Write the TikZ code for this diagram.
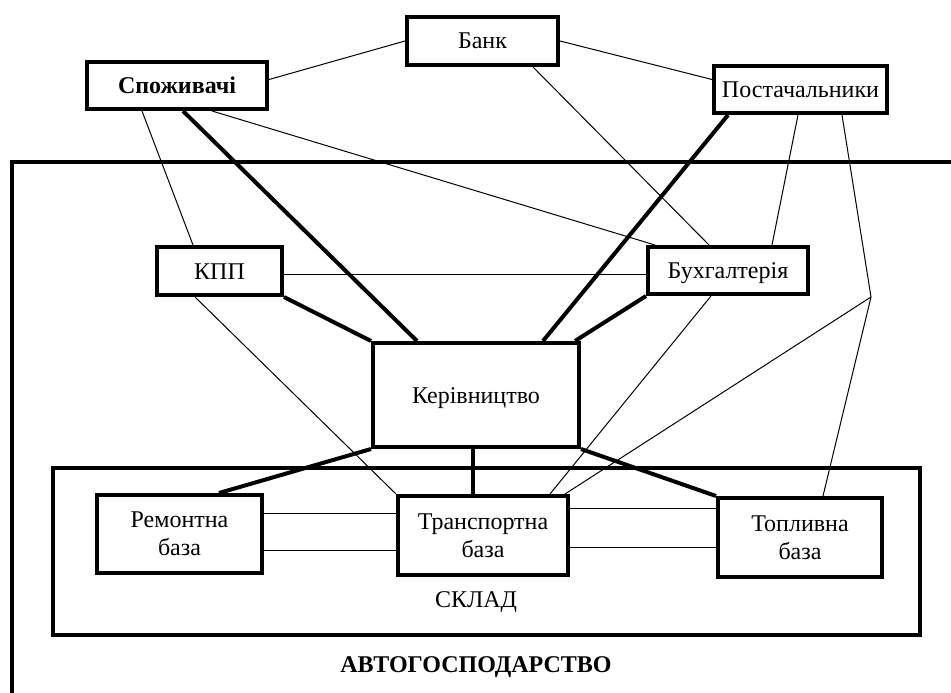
\documentclass[tikz,border=0pt]{standalone}
\usepackage{fontspec}
\setmainfont{Liberation Serif}
\begin{document}
\begin{tikzpicture}[x=1pt,y=-1pt,
  box/.style={draw,line width=4pt,fill=white,inner sep=0pt,align=center,
    font=\fontsize{24}{28}\selectfont},
  one/.style={text height=18pt,text depth=2pt},
  thin/.style={line width=1pt},
  thick/.style={line width=4pt},
  frame/.style={line width=4.5pt},
  lbl/.style={inner sep=0pt,font=\fontsize{24}{28}\selectfont}]
\useasboundingbox (0,0) rectangle (951,693);
% frames
\draw[frame] (951,162) -- (12,162) -- (12,693);
\draw[frame] (53,468) rectangle (920,635);
% nodes
\node[box,one,minimum width=151pt,minimum height=48pt] (bank) at (482.5,41) {Банк};
\node[box,one,minimum width=180pt,minimum height=47pt,font=\fontsize{24}{28}\selectfont\bfseries] (spoz) at (177,85.5) {Споживачі};
\node[box,one,minimum width=173pt,minimum height=47pt] (post) at (800.5,89.5) {Постачальники};
\node[box,one,minimum width=125pt,minimum height=48pt] (kpp) at (219.5,271) {КПП};
\node[box,one,minimum width=160pt,minimum height=47pt] (buh) at (728,270.5) {Бухгалтерія};
\node[box,one,minimum width=206pt,minimum height=104pt] (ker) at (476,395) {Керівництво};
\node[box,minimum width=165pt,minimum height=78pt] (rem) at (179.5,534) {Ремонтна\\база};
\node[box,minimum width=170pt,minimum height=79pt] (trans) at (483,535.5) {Транспортна\\база};
\node[box,minimum width=164pt,minimum height=79pt] (topl) at (800,537.5) {Топливна\\база};
\node[lbl] (sklad) at (476,602) {СКЛАД};
\node[lbl,font=\fontsize{24}{28}\selectfont\bfseries] (avto) at (476,667) {АВТОГОСПОДАРСТВО};
\coordinate (j) at (871,297);
% connectors
\draw[thin] ([yshift=6pt]spoz.east) -- (bank.west);
\draw[thin] (bank.east) -- ([yshift=10pt]post.west);
\draw[thin] ([xshift=50.5pt]bank.south) -- ([xshift=-19pt]buh.north);
\draw[thin] ([xshift=-35pt]spoz.south) -- ([xshift=-26.5pt]kpp.north);
\draw[thick] ([xshift=6pt]spoz.south) -- ([xshift=-59pt]ker.north);
\draw[thin] ([xshift=35pt]spoz.south) -- ([xshift=9pt]buh.north west);
\draw[thin] ([yshift=-3pt]kpp.east) -- ([yshift=-3pt]kpp.east -| buh.west);
\draw[thick] (kpp.south east) -- (ker.north west);
\draw[thin] ([xshift=-24.5pt]kpp.south) -- (trans.north west);
\draw[thick] ([xshift=-72.5pt]post.south) -- ([xshift=67pt]ker.north);
\draw[thick] (buh.south west) -- ([xshift=-6pt]ker.north east);
\draw[thin] ([xshift=-2.5pt]post.south) -- ([xshift=44pt]buh.north);
\draw[thin] ([xshift=41.5pt]post.south) -- (j);
\draw[thin] (j) -- ([xshift=-5pt]trans.north east);
\draw[thin] (j) -- ([xshift=23pt]topl.north);
\draw[thin] ([xshift=-17pt]buh.south) -- ([xshift=67pt]trans.north);
\draw[thick] (ker.south west) -- ([xshift=39.5pt]rem.north);
\draw[thick] ([xshift=-3pt]ker.south) -- ([xshift=-3pt]ker.south |- trans.north);
\draw[thick] (ker.south east) -- (topl.north west);
\draw[thin] ([yshift=21pt]rem.east) -- ([yshift=21pt]rem.east -| trans.west);
\draw[thin] ([yshift=-16pt]rem.east) -- ([yshift=-16pt]rem.east -| trans.west);
\draw[thin] ([yshift=27.5pt]trans.east) -- ([yshift=27.5pt]trans.east -| topl.west);
\draw[thin] ([yshift=-11.5pt]trans.east) -- ([yshift=-11.5pt]trans.east -| topl.west);
\end{tikzpicture}
\end{document}
